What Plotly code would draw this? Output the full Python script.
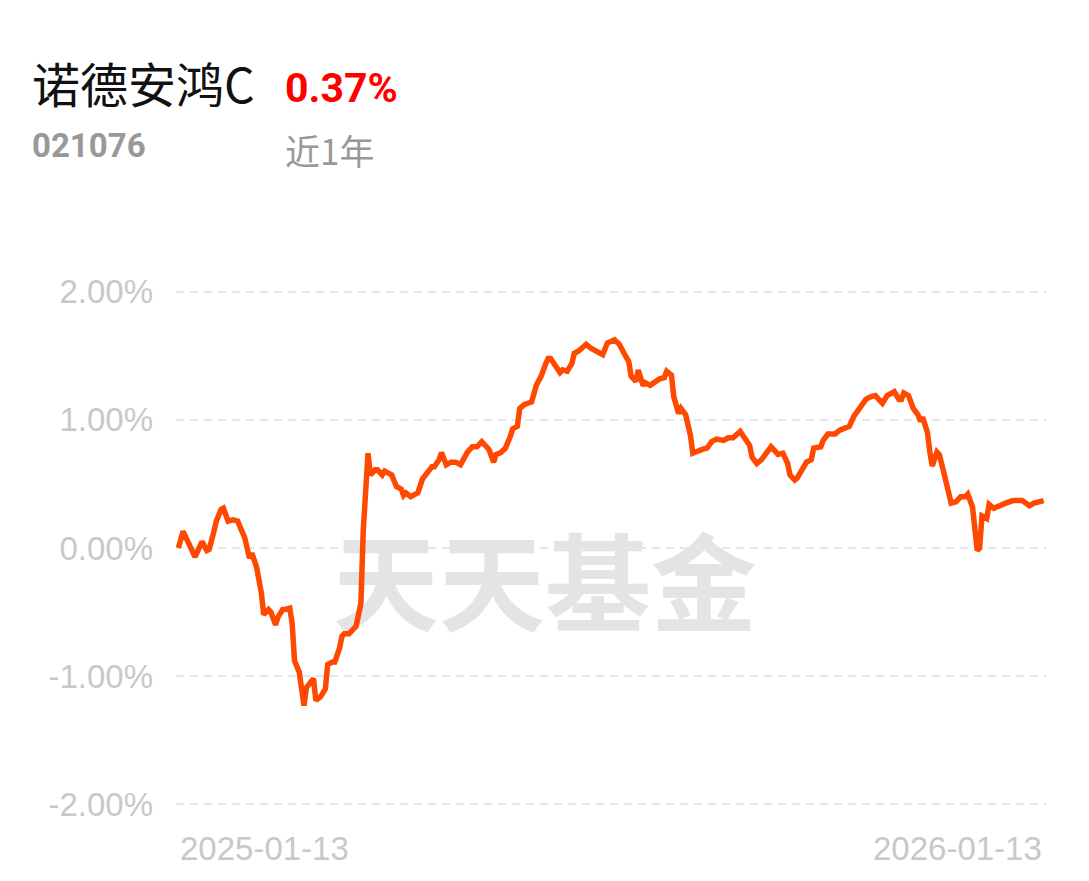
import pandas as pd
import plotly.graph_objects as go

# ---- data ----
fund_name = "诺德安鸿C"
fund_code = "021076"
period_return = "0.37%"
period_label = "近1年"
start_date = "2025-01-13"
end_date = "2026-01-13"
x_tick_labels = ["2025-01-13", "2026-01-13"]
y_tick_values = [-2, -1, 0, 1, 2]
y_tick_labels = ["-2.00%", "-1.00%", "0.00%", "1.00%", "2.00%"]

# calendar days after start_date
day_offsets = [
    0, 2, 7, 10, 12, 13, 15, 16, 18, 19, 21, 23, 25, 28, 30, 31, 33, 35, 36, 38,
    39, 41, 42, 44, 45, 47, 48, 49, 51, 53, 54, 56, 57, 58, 60, 62, 63, 65, 66, 68,
    69, 70, 72, 74, 75, 77, 78, 80, 81, 83, 84, 86, 87, 89, 90, 92, 94, 95, 96, 98,
    101, 103, 106, 107, 108, 110, 111, 113, 115, 117, 119, 121, 122, 124, 126, 128, 130, 131, 133, 134,
    136, 138, 140, 141, 143, 144, 146, 149, 151, 153, 155, 156, 157, 159, 161, 162, 164, 166, 167, 169,
    172, 174, 176, 179, 181, 182, 184, 186, 187, 188, 190, 191, 193, 194, 196, 197, 199, 201, 203, 205,
    206, 208, 209, 211, 212, 214, 216, 217, 219, 221, 223, 225, 227, 230, 232, 234, 237, 239, 241, 242,
    244, 246, 248, 250, 252, 253, 255, 257, 258, 260, 261, 263, 265, 267, 268, 271, 272, 274, 277, 279,
    281, 283, 285, 287, 290, 292, 294, 297, 299, 302, 304, 305, 306, 308, 310, 312, 313, 314, 316, 317,
    318, 320, 321, 323, 325, 326, 328, 330, 332, 333, 335, 336, 337, 338, 339, 341, 342, 344, 346, 349,
    352, 356, 359, 361, 365,
]
returns_pct = [
    0.00, 0.13, -0.07, 0.05, -0.02, -0.01, 0.13, 0.21, 0.30, 0.31, 0.21, 0.22, 0.21, 0.08, -0.08, -0.04, -0.15, -0.35, -0.52, -0.48,
    -0.50, -0.60, -0.54, -0.48, -0.48, -0.47, -0.59, -0.88, -0.97, -1.23, -1.09, -1.03, -1.02, -1.19, -1.16, -1.10, -0.91, -0.89, -0.89, -0.78,
    -0.69, -0.67, -0.67, -0.63, -0.61, -0.43, 0.14, 0.74, 0.57, 0.61, 0.61, 0.57, 0.60, 0.58, 0.57, 0.48, 0.46, 0.41, 0.43, 0.40,
    0.43, 0.54, 0.61, 0.635, 0.635, 0.69, 0.745, 0.65, 0.67, 0.67, 0.65, 0.73, 0.75, 0.79, 0.79, 0.83, 0.79, 0.77, 0.67, 0.73,
    0.745, 0.78, 0.87, 0.93, 0.95, 1.09, 1.12, 1.14, 1.27, 1.34, 1.44, 1.48, 1.48, 1.42, 1.37, 1.39, 1.38, 1.44, 1.52, 1.54,
    1.59, 1.56, 1.54, 1.51, 1.60, 1.61, 1.625, 1.59, 1.54, 1.52, 1.455, 1.34, 1.30, 1.39, 1.27, 1.29, 1.27, 1.30, 1.32, 1.33,
    1.38, 1.35, 1.18, 1.05, 1.09, 1.04, 0.88, 0.74, 0.76, 0.77, 0.78, 0.83, 0.85, 0.84, 0.86, 0.86, 0.91, 0.85, 0.80, 0.71,
    0.66, 0.69, 0.74, 0.79, 0.75, 0.73, 0.74, 0.66, 0.57, 0.53, 0.545, 0.60, 0.67, 0.69, 0.78, 0.79, 0.84, 0.89, 0.89, 0.92,
    0.93, 0.95, 1.03, 1.09, 1.16, 1.18, 1.19, 1.13, 1.19, 1.22, 1.16, 1.16, 1.21, 1.19, 1.09, 1.04, 0.99, 1.02, 0.90, 0.75,
    0.64, 0.75, 0.73, 0.58, 0.43, 0.35, 0.36, 0.40, 0.40, 0.42, 0.32, 0.13, -0.02, 0.00, 0.25, 0.23, 0.34, 0.31, 0.33, 0.35,
    0.37, 0.37, 0.33, 0.35, 0.37,
]

dates = pd.Timestamp(start_date) + pd.to_timedelta(day_offsets, unit="D")

# ---- layout geometry (pixels; the page body adds an 8px offset) ----
OFF = 8
W, H = 1081, 873
ML, MR, MT, MB = 168, 43, 271, 64
plot_w = W - ML - MR
plot_h = H - MT - MB


def px_x(px):
    return (px - OFF - ML) / plot_w


def px_y(py):
    return (H - MB - (py - OFF)) / plot_h


LINE_COLOR = "#ff4800"
LABEL_GRAY = "#c8c8c8"
GRID_GRAY = "#e6e6e6"

fig = go.Figure()
fig.add_trace(go.Scatter(
    x=dates, y=returns_pct, mode="lines",
    line=dict(color=LINE_COLOR, width=5.5, shape="linear"),
    hoverinfo="skip", showlegend=False,
))

fig.update_layout(
    width=W, height=H,
    margin=dict(l=ML, r=MR, t=MT, b=MB, pad=0),
    paper_bgcolor="white", plot_bgcolor="white",
    showlegend=False,
    xaxis=dict(
        range=[pd.Timestamp(start_date) - pd.Timedelta(days=1),
               pd.Timestamp(end_date) + pd.Timedelta(days=1)],
        showgrid=False, zeroline=False, showline=False, showticklabels=False,
        ticks="", fixedrange=True,
    ),
    yaxis=dict(
        range=[-2.1, 2.1],
        tickvals=y_tick_values, ticktext=y_tick_labels,
        showgrid=True, gridcolor=GRID_GRAY, gridwidth=2, griddash="8px,6px",
        zeroline=False, showline=False, ticks="",
        ticklabelstandoff=22,
        tickfont=dict(family="Liberation Sans, Arial, sans-serif", size=33, color=LABEL_GRAY),
        fixedrange=True,
    ),
)

# watermark drawn beneath the line
fig.add_shape(
    type="rect", xref="paper", yref="paper",
    x0=px_x(335), x1=px_x(755), y0=px_y(642), y1=px_y(545),
    line=dict(width=0), fillcolor="rgba(0,0,0,0)", layer="below",
    label=dict(text="天天基金", textposition="middle center",
               font=dict(family="Noto Sans CJK SC", size=106, color="#e4e4e4", weight="bold")),
)

annotations = [
    dict(text=fund_name, x=px_x(30), y=px_y(82), xanchor="left", yanchor="middle",
         font=dict(family="Noto Sans CJK SC", size=48, color="#111111")),
    dict(text=period_return, x=px_x(283), y=px_y(88), xanchor="left", yanchor="middle",
         font=dict(family="Roboto, Liberation Sans", size=41, color="#ff0000", weight="bold")),
    dict(text=fund_code, x=px_x(30), y=px_y(146), xanchor="left", yanchor="middle",
         font=dict(family="Roboto, Liberation Sans", size=33, color="#999999", weight="bold")),
    dict(text=period_label, x=px_x(283), y=px_y(150), xanchor="left", yanchor="middle",
         font=dict(family="Noto Sans CJK SC", size=35, color="#999999")),
]
x_label_anchor = ["left", "right"]
x_label_pos = [start_date, end_date]
for lab, pos, anc in zip(x_tick_labels, x_label_pos, x_label_anchor):
    annotations.append(dict(
        text=lab, x=pos, xref="x", y=px_y(848), yref="paper",
        xanchor=anc, yanchor="middle", showarrow=False,
        font=dict(family="Liberation Sans, Arial, sans-serif", size=33, color=LABEL_GRAY),
    ))
for a in annotations:
    a.setdefault("xref", "paper")
    a.setdefault("yref", "paper")
    a["showarrow"] = False
fig.update_layout(annotations=annotations)

fig.write_html("out.html")
